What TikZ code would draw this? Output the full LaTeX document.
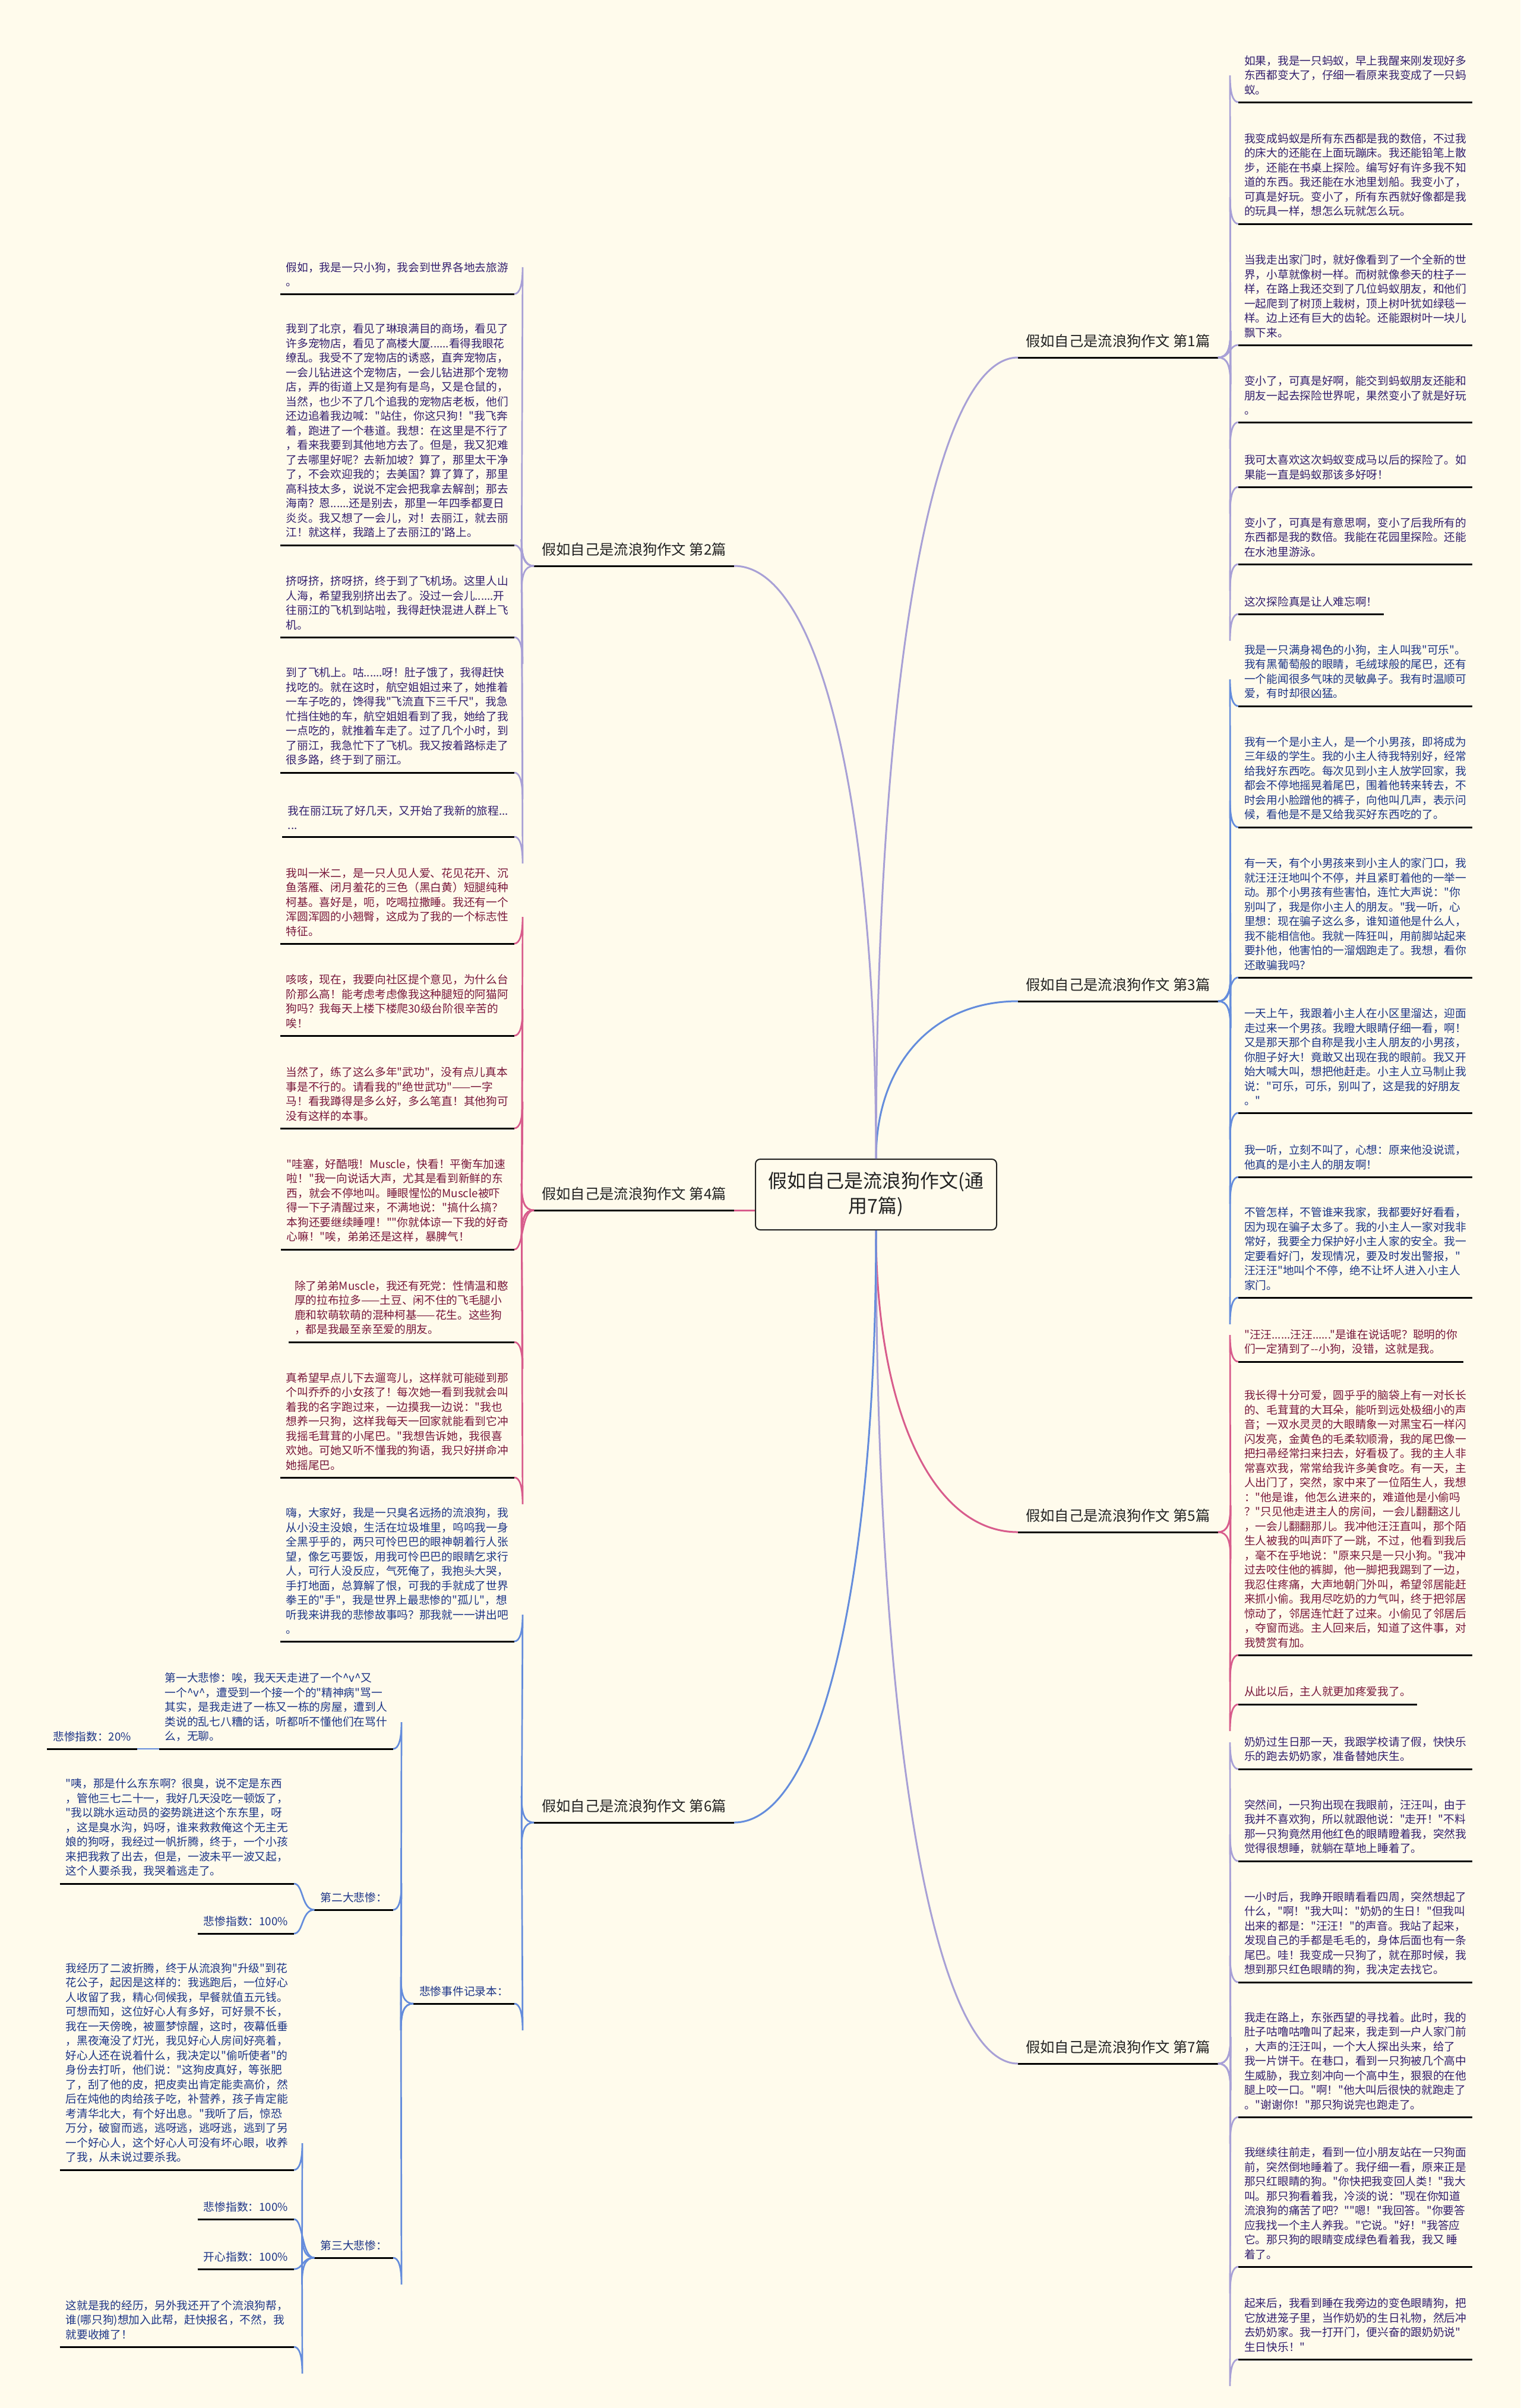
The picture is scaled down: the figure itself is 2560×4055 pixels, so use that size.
\documentclass[tikz,border=0pt]{standalone}
\usepackage{fontspec}
\newfontfamily\cjkfont{Noto Sans CJK SC}
\usepackage{tikz}
\usetikzlibrary{calc}
\definecolor{PageCream}{RGB}{255,251,236}
\definecolor{LavLine}{RGB}{168,160,214}
\definecolor{BlueLine}{RGB}{100,140,220}
\definecolor{PinkLine}{RGB}{216,92,140}
\definecolor{PurpText}{RGB}{50,30,110}
\definecolor{BlueText}{RGB}{28,52,135}
\definecolor{RedText}{RGB}{120,22,58}
\definecolor{HeadText}{RGB}{34,34,34}

\tikzset{
  leafnode/.style={font=\cjkfont\fontsize{18.7pt}{24.5pt}\selectfont,align=left,inner xsep=10pt,inner ysep=12pt},
  purpleleaf/.style={leafnode,text=PurpText},
  blueleaf/.style={leafnode,text=BlueText},
  redleaf/.style={leafnode,text=RedText},
  branchnode/.style={font=\cjkfont\fontsize{24.3pt}{30pt}\selectfont,text=HeadText,inner xsep=13pt,inner ysep=16pt},
  rootnode/.style={draw=HeadText,line width=2pt,rounded corners=8pt,fill=PageCream,
    minimum width=406pt,minimum height=119pt,align=center,text=HeadText,
    font=\cjkfont\fontsize{32pt}{42pt}\selectfont},
  under/.style={draw=black,line width=3pt},
  lavline/.style={draw=LavLine,line width=2.7pt},
  blueline/.style={draw=BlueLine,line width=2.7pt},
  pinkline/.style={draw=PinkLine,line width=2.7pt},
  lavtrunk/.style={draw=LavLine,line width=3pt},
  bluetrunk/.style={draw=BlueLine,line width=3pt},
  pinktrunk/.style={draw=PinkLine,line width=3pt}
}

\newcommand\rleaf[4]{%
  \node[#1,anchor=south west] (#2) at (2085,#3) {#4};
  \draw[under] (#2.south west) -- (#2.south east);}
\newcommand\lleaf[5]{%
  \node[#1,anchor=south east] (#2) at (#3,#4) {#5};
  \draw[under] (#2.south west) -- (#2.south east);}
\newcommand\trunk[3]{%
  \draw[#1] (#2) .. controls ($(#2)!0.6!(#2|-#3)$) and ($(#3)!0.6!(#2|-#3)$) .. (#3);}
\newcommand\elbow[3]{%
  \draw[#1] let \p1=(#2), \p2=(#3), \n1={sign((\x2)-(\x1))}, \n2={sign((\y1)-(\y2))},
    \n3={-sign((\x2)-(\x1))}, \n4={-sign((\y1)-(\y2))} in
    (\p1) .. controls +(\n1*16,0) and +(0,\n4*30) .. ($(\p1)+(\n1*21,\n2*45)$)
    -- ($(\p2)+(\n3*14,\n4*45)$) .. controls +(0,\n2*30) and +(\n3*9,0) .. (\p2);}
\newcommand\scurve[3]{%
  \draw[#1] let \p1=(#2), \p2=(#3), \n1={sign((\x2)-(\x1))}, \n3={-sign((\x2)-(\x1))} in
    (\p1) .. controls +(\n1*22,0) and +(\n3*16,0) .. (\p2);}

\begin{document}
\begin{tikzpicture}[x=1pt,y=-1pt]
  \fill[PageCream] (0,0) rectangle (2560,4055);
  \useasboundingbox (0,0) rectangle (2560,4055);

  \node[rootnode] (root) at (1475,2011.5) {假如自己是流浪狗作文(通\\用7篇)};

  \node[branchnode,anchor=south west] (b1) at (1714,602) {假如自己是流浪狗作文 第1篇};
  \node[branchnode,anchor=south west] (b3) at (1714,1686) {假如自己是流浪狗作文 第3篇};
  \node[branchnode,anchor=south west] (b5) at (1714,2580) {假如自己是流浪狗作文 第5篇};
  \node[branchnode,anchor=south west] (b7) at (1714,3475) {假如自己是流浪狗作文 第7篇};
  \node[branchnode,anchor=south east] (b2) at (1236,953) {假如自己是流浪狗作文 第2篇};
  \node[branchnode,anchor=south east] (b4) at (1236,2038) {假如自己是流浪狗作文 第4篇};
  \node[branchnode,anchor=south east] (b6) at (1236,3069) {假如自己是流浪狗作文 第6篇};
  \foreach \bn in {b1,b2,b3,b4,b5,b6,b7}
    {\draw[under] (\bn.south west) -- (\bn.south east);}

  \trunk{lavtrunk}{root.north}{b1.south west}
  \trunk{bluetrunk}{root.north}{b3.south west}
  \trunk{lavtrunk}{root.north}{b2.south east}
  \draw[pinktrunk] (b4.south east) -- (b4.south east -| root.west);
  \trunk{pinktrunk}{root.south}{b5.south west}
  \trunk{lavtrunk}{root.south}{b7.south west}
  \trunk{bluetrunk}{root.south}{b6.south east}

  % 第1篇
  \rleaf{purpleleaf}{ant1}{172}{如果，我是一只蚂蚁，早上我醒来刚发现好多\\东西都变大了，仔细一看原来我变成了一只蚂\\蚁。}
  \rleaf{purpleleaf}{ant2}{377}{我变成蚂蚁是所有东西都是我的数倍，不过我\\的床大的还能在上面玩蹦床。我还能铅笔上散\\步，还能在书桌上探险。编写好有许多我不知\\道的东西。我还能在水池里划船。我变小了，\\可真是好玩。变小了，所有东西就好像都是我\\的玩具一样，想怎么玩就怎么玩。}
  \rleaf{purpleleaf}{ant3}{581}{当我走出家门时，就好像看到了一个全新的世\\界，小草就像树一样。而树就像参天的柱子一\\样，在路上我还交到了几位蚂蚁朋友，和他们\\一起爬到了树顶上栽树，顶上树叶犹如绿毯一\\样。边上还有巨大的齿轮。还能跟树叶一块儿\\飘下来。}
  \rleaf{purpleleaf}{ant4}{711}{变小了，可真是好啊，能交到蚂蚁朋友还能和\\朋友一起去探险世界呢，果然变小了就是好玩\\。}
  \rleaf{purpleleaf}{ant5}{820}{我可太喜欢这次蚂蚁变成马以后的探险了。如\\果能一直是蚂蚁那该多好呀！}
  \rleaf{purpleleaf}{ant6}{950}{变小了，可真是有意思啊，变小了后我所有的\\东西都是我的数倍。我能在花园里探险。还能\\在水池里游泳。}
  \rleaf{purpleleaf}{ant7}{1034}{这次探险真是让人难忘啊！}
  \foreach \lf in {ant1,ant2,ant4,ant5,ant6,ant7}
    {\elbow{lavline}{b1.south east}{\lf.south west}}
  \scurve{lavline}{b1.south east}{ant3.south west}

  % 第3篇
  \rleaf{blueleaf}{cola1}{1189}{我是一只满身褐色的小狗，主人叫我"可乐"。\\我有黑葡萄般的眼睛，毛绒球般的尾巴，还有\\一个能闻很多气味的灵敏鼻子。我有时温顺可\\爱，有时却很凶猛。}
  \rleaf{blueleaf}{cola2}{1393}{我有一个是小主人，是一个小男孩，即将成为\\三年级的学生。我的小主人待我特别好，经常\\给我好东西吃。每次见到小主人放学回家，我\\都会不停地摇晃着尾巴，围着他转来转去，不\\时会用小脸蹭他的裤子，向他叫几声，表示问\\候，看他是不是又给我买好东西吃的了。}
  \rleaf{blueleaf}{cola3}{1646}{有一天，有个小男孩来到小主人的家门口，我\\就汪汪汪地叫个不停，并且紧盯着他的一举一\\动。那个小男孩有些害怕，连忙大声说："你\\别叫了，我是你小主人的朋友。"我一听，心\\里想：现在骗子这么多，谁知道他是什么人，\\我不能相信他。我就一阵狂叫，用前脚站起来\\要扑他，他害怕的一溜烟跑走了。我想，看你\\还敢骗我吗？}
  \rleaf{blueleaf}{cola4}{1874}{一天上午，我跟着小主人在小区里溜达，迎面\\走过来一个男孩。我瞪大眼睛仔细一看，啊！\\又是那天那个自称是我小主人朋友的小男孩，\\你胆子好大！竟敢又出现在我的眼前。我又开\\始大喊大叫，想把他赶走。小主人立马制止我\\说："可乐，可乐，别叫了，这是我的好朋友\\。"}
  \rleaf{blueleaf}{cola5}{1982}{我一听，立刻不叫了，心想：原来他没说谎，\\他真的是小主人的朋友啊！}
  \rleaf{blueleaf}{cola6}{2185}{不管怎样，不管谁来我家，我都要好好看看，\\因为现在骗子太多了。我的小主人一家对我非\\常好，我要全力保护好小主人家的安全。我一\\定要看好门，发现情况，要及时发出警报，"\\汪汪汪"地叫个不停，绝不让坏人进入小主人\\家门。}
  \foreach \lf in {cola1,cola2,cola4,cola5,cola6}
    {\elbow{blueline}{b3.south east}{\lf.south west}}
  \scurve{blueline}{b3.south east}{cola3.south west}

  % 第5篇
  \rleaf{redleaf}{guard1}{2293}{"汪汪......汪汪......"是谁在说话呢？聪明的你\\们一定猜到了--小狗，没错，这就是我。}
  \rleaf{redleaf}{guard2}{2787}{我长得十分可爱，圆乎乎的脑袋上有一对长长\\的、毛茸茸的大耳朵，能听到远处极细小的声\\音；一双水灵灵的大眼睛象一对黑宝石一样闪\\闪发亮，金黄色的毛柔软顺滑，我的尾巴像一\\把扫帚经常扫来扫去，好看极了。我的主人非\\常喜欢我，常常给我许多美食吃。有一天，主\\人出门了，突然，家中来了一位陌生人，我想\\："他是谁，他怎么进来的，难道他是小偷吗\\？"只见他走进主人的房间，一会儿翻翻这儿\\，一会儿翻翻那儿。我冲他汪汪直叫，那个陌\\生人被我的叫声吓了一跳，不过，他看到我后\\，毫不在乎地说："原来只是一只小狗。"我冲\\过去咬住他的裤脚，他一脚把我踢到了一边，\\我忍住疼痛，大声地朝门外叫，希望邻居能赶\\来抓小偷。我用尽吃奶的力气叫，终于把邻居\\惊动了，邻居连忙赶了过来。小偷见了邻居后\\，夺窗而逃。主人回来后，知道了这件事，对\\我赞赏有加。}
  \rleaf{redleaf}{guard3}{2870}{从此以后，主人就更加疼爱我了。}
  \foreach \lf in {guard1,guard2,guard3}
    {\elbow{pinkline}{b5.south east}{\lf.south west}}

  % 第7篇
  \rleaf{purpleleaf}{gran1}{2979}{奶奶过生日那一天，我跟学校请了假，快快乐\\乐的跑去奶奶家，准备替她庆生。}
  \rleaf{purpleleaf}{gran2}{3134}{突然间，一只狗出现在我眼前，汪汪叫，由于\\我并不喜欢狗，所以就跟他说："走开！"不料\\那一只狗竟然用他红色的眼睛瞪着我，突然我\\觉得很想睡，就躺在草地上睡着了。}
  \rleaf{purpleleaf}{gran3}{3338}{一小时后，我睁开眼睛看看四周，突然想起了\\什么，"啊！"我大叫："奶奶的生日！"但我叫\\出来的都是："汪汪！"的声音。我站了起来，\\发现自己的手都是毛毛的，身体后面也有一条\\尾巴。哇！我变成一只狗了，就在那时候，我\\想到那只红色眼睛的狗，我决定去找它。}
  \rleaf{purpleleaf}{gran4}{3565}{我走在路上，东张西望的寻找着。此时，我的\\肚子咕噜咕噜叫了起来，我走到一户人家门前\\，大声的汪汪叫，一个大人探出头来，给了\\我一片饼干。在巷口，看到一只狗被几个高中\\生威胁，我立刻冲向一个高中生，狠狠的在他\\腿上咬一口。"啊！"他大叫后很快的就跑走了\\。"谢谢你！"那只狗说完也跑走了。}
  \rleaf{purpleleaf}{gran5}{3817}{我继续往前走，看到一位小朋友站在一只狗面\\前，突然倒地睡着了。我仔细一看，原来正是\\那只红眼睛的狗。"你快把我变回人类！"我大\\叫。那只狗看着我，冷淡的说："现在你知道\\流浪狗的痛苦了吧？""嗯！"我回答。"你要答\\应我找一个主人养我。"它说。"好！"我答应\\它。那只狗的眼睛变成绿色看着我，我又 睡\\着了。}
  \rleaf{purpleleaf}{gran6}{3973}{起来后，我看到睡在我旁边的变色眼睛狗，把\\它放进笼子里，当作奶奶的生日礼物，然后冲\\去奶奶家。我一打开门，便兴奋的跟奶奶说"\\生日快乐！"}
  \foreach \lf in {gran1,gran2,gran3,gran4,gran5,gran6}
    {\elbow{lavline}{b7.south east}{\lf.south west}}

  % 第2篇
  \lleaf{purpleleaf}{trip1}{866}{495}{假如，我是一只小狗，我会到世界各地去旅游\\。}
  \lleaf{purpleleaf}{trip2}{866}{918}{我到了北京，看见了琳琅满目的商场，看见了\\许多宠物店，看见了高楼大厦......看得我眼花\\缭乱。我受不了宠物店的诱惑，直奔宠物店，\\一会儿钻进这个宠物店，一会儿钻进那个宠物\\店，弄的街道上又是狗有是鸟，又是仓鼠的，\\当然，也少不了几个追我的宠物店老板，他们\\还边追着我边喊："站住，你这只狗！"我飞奔\\着，跑进了一个巷道。我想：在这里是不行了\\，看来我要到其他地方去了。但是，我又犯难\\了去哪里好呢？去新加坡？算了，那里太干净\\了，不会欢迎我的；去美国？算了算了，那里\\高科技太多，说说不定会把我拿去解剖；那去\\海南？恩......还是别去，那里一年四季都夏日\\炎炎。我又想了一会儿，对！去丽江，就去丽\\江！就这样，我踏上了去丽江的'路上。}
  \lleaf{purpleleaf}{trip3}{866}{1073}{挤呀挤，挤呀挤，终于到了飞机场。这里人山\\人海，希望我别挤出去了。没过一会儿......开\\往丽江的飞机到站啦，我得赶快混进人群上飞\\机。}
  \lleaf{purpleleaf}{trip4}{866}{1301}{到了飞机上。咕......呀！肚子饿了，我得赶快\\找吃的。就在这时，航空姐姐过来了，她推着\\一车子吃的，馋得我"飞流直下三千尺"，我急\\忙挡住她的车，航空姐姐看到了我，她给了我\\一点吃的，就推着车走了。过了几个小时，到\\了丽江，我急忙下了飞机。我又按着路标走了\\很多路，终于到了丽江。}
  \lleaf{purpleleaf}{trip5}{866}{1409}{我在丽江玩了好几天，又开始了我新的旅程...\\...}
  \foreach \lf in {trip1,trip3,trip4,trip5}
    {\elbow{lavline}{b2.south west}{\lf.south east}}
  \scurve{lavline}{b2.south west}{trip2.south east}

  % 第4篇
  \lleaf{redleaf}{corgi1}{866}{1589}{我叫一米二，是一只人见人爱、花见花开、沉\\鱼落雁、闭月羞花的三色（黑白黄）短腿纯种\\柯基。喜好是，呃，吃喝拉撒睡。我还有一个\\浑圆浑圆的小翘臀，这成为了我的一个标志性\\特征。}
  \lleaf{redleaf}{corgi2}{866}{1744}{咳咳，现在，我要向社区提个意见，为什么台\\阶那么高！能考虑考虑像我这种腿短的阿猫阿\\狗吗？我每天上楼下楼爬30级台阶很辛苦的\\唉！}
  \lleaf{redleaf}{corgi3}{866}{1900}{当然了，练了这么多年"武功"，没有点儿真本\\事是不行的。请看我的"绝世武功"——一字\\马！看我蹲得是多么好，多么笔直！其他狗可\\没有这样的本事。}
  \lleaf{redleaf}{corgi4}{866}{2104}{"哇塞，好酷哦！Muscle，快看！平衡车加速\\啦！"我一向说话大声，尤其是看到新鲜的东\\西，就会不停地叫。睡眼惺忪的Muscle被吓\\得一下子清醒过来，不满地说："搞什么搞？\\本狗还要继续睡哩！""你就体谅一下我的好奇\\心嘛！"唉，弟弟还是这样，暴脾气！}
  \lleaf{redleaf}{corgi5}{866}{2260}{除了弟弟Muscle，我还有死党：性情温和憨\\厚的拉布拉多——土豆、闲不住的飞毛腿小\\鹿和软萌软萌的混种柯基——花生。这些狗\\，都是我最至亲至爱的朋友。}
  \lleaf{redleaf}{corgi6}{866}{2488}{真希望早点儿下去遛弯儿，这样就可能碰到那\\个叫乔乔的小女孩了！每次她一看到我就会叫\\着我的名字跑过来，一边摸我一边说："我也\\想养一只狗，这样我每天一回家就能看到它冲\\我摇毛茸茸的小尾巴。"我想告诉她，我很喜\\欢她。可她又听不懂我的狗语，我只好拼命冲\\她摇尾巴。}
  \foreach \lf in {corgi1,corgi2,corgi3,corgi5,corgi6}
    {\elbow{pinkline}{b4.south west}{\lf.south east}}
  \scurve{pinkline}{b4.south west}{corgi4.south east}

  % 第6篇
  \lleaf{blueleaf}{stray}{866}{2764}{嗨，大家好，我是一只臭名远扬的流浪狗，我\\从小没主没娘，生活在垃圾堆里，呜呜我一身\\全黑乎乎的，两只可怜巴巴的眼神朝着行人张\\望，像乞丐要饭，用我可怜巴巴的眼睛乞求行\\人，可行人没反应，气死俺了，我抱头大哭，\\手打地面，总算解了恨，可我的手就成了世界\\拳王的"手"，我是世界上最悲惨的"孤儿"，想\\听我来讲我的悲惨故事吗？那我就一一讲出吧\\。}
  \lleaf{blueleaf}{record}{866}{3374}{悲惨事件记录本：}
  \elbow{blueline}{b6.south west}{stray.south east}
  \elbow{blueline}{b6.south west}{record.south east}

  \lleaf{blueleaf}{woe1}{662}{2945}{第一大悲惨：唉，我天天走进了一个\textasciicircum v\textasciicircum 又\\一个\textasciicircum v\textasciicircum ，遭受到一个接一个的"精神病"骂一\\其实，是我走进了一栋又一栋的房屋，遭到人\\类说的乱七八糟的话，听都听不懂他们在骂什\\么，无聊。}
  \lleaf{blueleaf}{woe1a}{231}{2945}{悲惨指数：20\%}
  \lleaf{blueleaf}{woe2}{662}{3216}{第二大悲惨：}
  \lleaf{blueleaf}{woe2a}{495}{3172}{"咦，那是什么东东啊？很臭，说不定是东西\\，管他三七二十一，我好几天没吃一顿饭了，\\"我以跳水运动员的姿势跳进这个东东里，呀\\，这是臭水沟，妈呀，谁来救救俺这个无主无\\娘的狗呀，我经过一帆折腾，终于，一个小孩\\来把我救了出去，但是，一波未平一波又起，\\这个人要杀我，我哭着逃走了。}
  \lleaf{blueleaf}{woe2b}{495}{3256}{悲惨指数：100\%}
  \lleaf{blueleaf}{woe3}{662}{3802}{第三大悲惨：}
  \lleaf{blueleaf}{woe3a}{495}{3654}{我经历了二波折腾，终于从流浪狗"升级"到花\\花公子，起因是这样的：我逃跑后，一位好心\\人收留了我，精心伺候我，早餐就值五元钱。\\可想而知，这位好心人有多好，可好景不长，\\我在一天傍晚，被噩梦惊醒，这时，夜幕低垂\\，黑夜淹没了灯光，我见好心人房间好亮着，\\好心人还在说着什么，我决定以"偷听使者"的\\身份去打听，他们说："这狗皮真好，等张肥\\了，刮了他的皮，把皮卖出肯定能卖高价，然\\后在炖他的肉给孩子吃，补营养，孩子肯定能\\考清华北大，有个好出息。"我听了后，惊恐\\万分，破窗而逃，逃呀逃，逃呀逃，逃到了另\\一个好心人，这个好心人可没有坏心眼，收养\\了我，从未说过要杀我。}
  \lleaf{blueleaf}{woe3b}{495}{3737}{悲惨指数：100\%}
  \lleaf{blueleaf}{woe3c}{495}{3821}{开心指数：100\%}
  \lleaf{blueleaf}{woe3d}{495}{3952}{这就是我的经历，另外我还开了个流浪狗帮，\\谁(哪只狗)想加入此帮，赶快报名，不然，我\\就要收摊了！}

  \foreach \lf in {woe1,woe2,woe3}
    {\elbow{blueline}{record.south west}{\lf.south east}}
  \scurve{blueline}{woe1.south west}{woe1a.south east}
  \scurve{blueline}{woe2.south west}{woe2a.south east}
  \scurve{blueline}{woe2.south west}{woe2b.south east}
  \elbow{blueline}{woe3.south west}{woe3a.south east}
  \scurve{blueline}{woe3.south west}{woe3b.south east}
  \scurve{blueline}{woe3.south west}{woe3c.south east}
  \elbow{blueline}{woe3.south west}{woe3d.south east}
\end{tikzpicture}
\end{document}
